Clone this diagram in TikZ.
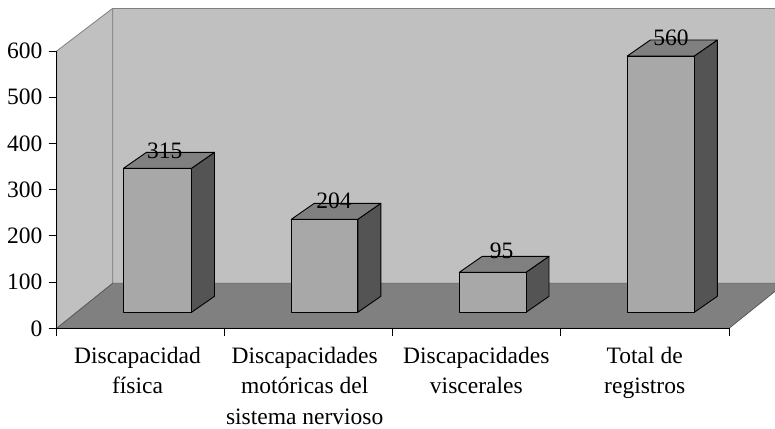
\documentclass[tikz,border=0pt]{standalone}
\usepackage{fontspec}
\setmainfont{Liberation Serif}
\definecolor{wallgray}{HTML}{C0C0C0}
\definecolor{floorgray}{HTML}{808080}
\definecolor{edgegray}{HTML}{808080}
\definecolor{flooredge}{HTML}{5A5A5A}
\definecolor{barfrontc}{HTML}{A8A8A8}
\definecolor{bartopc}{HTML}{808080}
\definecolor{barsidec}{HTML}{545454}
\newcommand\drawbar[3]{%
  \filldraw[barside] ({#1+#2},312.3) -- ++(23,-16) -- ({#1+#2+23},{#3-16}) -- ({#1+#2},#3) -- cycle;
  \filldraw[bartop] (#1,#3) -- ++(23,-16) -- ({#1+#2+23},{#3-16}) -- ({#1+#2},#3) -- cycle;
  \filldraw[barfront] (#1,312.3) rectangle ({#1+#2},#3);
}
\begin{document}
\begin{tikzpicture}[x=1pt,y=-1pt,
  font=\fontsize{23.5}{30.5}\selectfont,
  wall/.style={fill=wallgray, draw=edgegray, line width=0.8pt, line join=round},
  floorface/.style={fill=floorgray, draw=flooredge, line width=0.8pt, line join=round},
  barfront/.style={fill=barfrontc, draw=black, line width=0.9pt, line join=round},
  bartop/.style={fill=bartopc, draw=black, line width=0.9pt, line join=round},
  barside/.style={fill=barsidec, draw=black, line width=0.9pt, line join=round},
  axisline/.style={draw=black, line width=0.9pt},
  ylab/.style={anchor=east, inner sep=0pt},
  vallab/.style={anchor=center, inner sep=0pt},
  catlab/.style={anchor=north, align=center, inner sep=0pt}]
\useasboundingbox (0,0) rectangle (775,428);
\begin{scope}
\clip (0,0) rectangle (775,428);
% back wall
\fill[wallgray] (112.7,8.3) rectangle (790,283.3);
\draw[edgegray, line width=0.8pt] (112.7,283.3) -- (112.7,8.3) -- (790,8.3);
% left wall
\filldraw[wall] (56.7,51) -- (112.7,8.3) -- (112.7,283.3) -- (56.7,328.3) -- cycle;
% floor
\filldraw[floorface] (56.7,328.3) -- (112.7,283.3) -- (785,283.3) -- (729,328.3) -- cycle;
\end{scope}
% bars
\drawbar{123.5}{68}{168.3}
\drawbar{291.3}{66.5}{219.3}
\drawbar{459.3}{66.7}{272.3}
\drawbar{627.3}{67}{56}
% axes
\coordinate (o) at (56.7,328.3);
\coordinate (ytop) at (56.7,51);
\coordinate (xend) at (729,328.3);
\draw[axisline] (ytop) -- (o) -- (xend);
\foreach \yy in {328.3,282.1,235.9,189.7,143.4,97.2,51}
  \draw[axisline] (48.5,\yy) -- (56.7,\yy);
\foreach \xx in {56.7,224.7,392.7,560.7,729}
  \draw[axisline] (\xx,328.3) -- (\xx,335.5);
% y labels
\node[ylab] (y0) at (42.5,328.3) {0};
\node[ylab] (y1) at (42.5,282.1) {100};
\node[ylab] (y2) at (42.5,235.9) {200};
\node[ylab] (y3) at (42.5,189.7) {300};
\node[ylab] (y4) at (42.5,143.4) {400};
\node[ylab] (y5) at (42.5,97.2) {500};
\node[ylab] (y6) at (42.5,51) {600};
% value labels
\node[vallab] (v1) at (164.7,151) {315};
\node[vallab] (v2) at (334,200.7) {204};
\node[vallab] (v3) at (501.7,250.7) {95};
\node[vallab] (v4) at (671,38) {560};
% category labels
\node[catlab] (c1) at (137.5,346.5) {Discapacidad\\física};
\node[catlab] (c2) at (304.7,346.5) {Discapacidades\\motóricas del\\sistema nervioso};
\node[catlab] (c3) at (476.3,346.5) {Discapacidades\\viscerales};
\node[catlab] (c4) at (644.7,346.5) {Total de\\registros};
\end{tikzpicture}
\end{document}
